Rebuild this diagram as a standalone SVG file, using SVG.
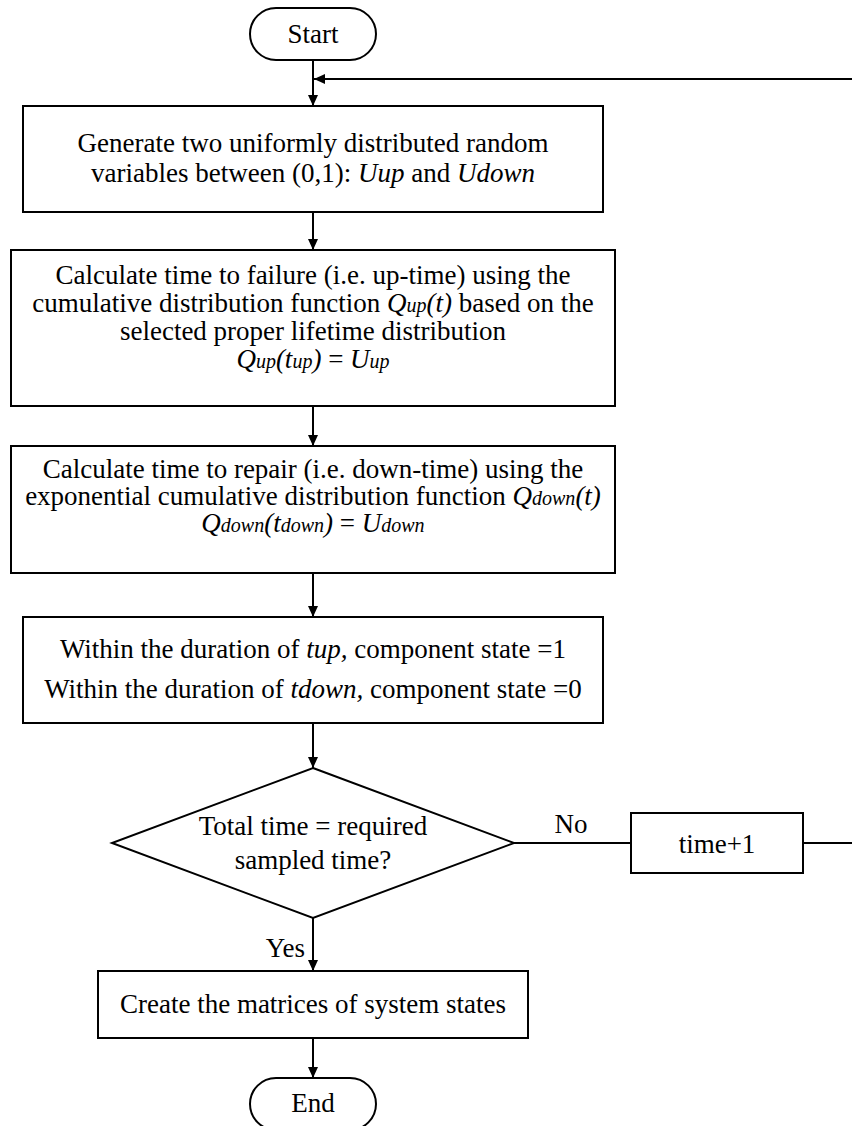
<svg xmlns="http://www.w3.org/2000/svg" width="852" height="1126" viewBox="0 0 852 1126">
  <style>
    .shape { fill: #ffffff; stroke: #000000; stroke-width: 2; }
    .wire { fill: none; stroke: #000000; stroke-width: 2; }
    text { font-family: "Liberation Serif", "Times New Roman", serif; font-size: 27px; fill: #000000; text-anchor: middle; }
    text.end { text-anchor: end; }
    .it { font-style: italic; }
    .sub { font-style: italic; font-size: 20px; }
  </style>
  <defs>
    <marker id="arrow" viewBox="0 0 11 10" refX="11" refY="5" markerWidth="11" markerHeight="10" markerUnits="userSpaceOnUse" orient="auto">
      <path d="M0,0 L11,5 L0,10 Z" fill="#000000"/>
    </marker>
  </defs>

  <!-- connectors and branch labels -->
  <g id="connectors">
    <line class="wire" x1="313" y1="60" x2="313" y2="106" marker-end="url(#arrow)"/>
    <path class="wire" d="M803,843 H855 V79 H314" marker-end="url(#arrow)"/>
    <line class="wire" x1="313" y1="212" x2="313" y2="250" marker-end="url(#arrow)"/>
    <line class="wire" x1="313" y1="406" x2="313" y2="446" marker-end="url(#arrow)"/>
    <line class="wire" x1="313" y1="573" x2="313" y2="617" marker-end="url(#arrow)"/>
    <line class="wire" x1="313" y1="723" x2="313" y2="768" marker-end="url(#arrow)"/>
    <line class="wire" x1="514" y1="843" x2="631" y2="843"/>
    <line class="wire" x1="313" y1="918" x2="313" y2="971" marker-end="url(#arrow)"/>
    <line class="wire" x1="313" y1="1038" x2="313" y2="1078" marker-end="url(#arrow)"/>
    <text x="571" y="833">No</text>
    <text x="305" y="957" class="end">Yes</text>
  </g>

  <g id="start">
    <rect class="shape" x="250" y="8" width="126" height="52" rx="26"/>
    <text x="313" y="43">Start</text>
  </g>

  <g id="generate">
    <rect class="shape" x="23" y="106" width="580" height="106"/>
    <text x="313" y="152">Generate two uniformly distributed random</text>
    <text x="313" y="182">variables between (0,1): <tspan class="it">Uup</tspan> and <tspan class="it">Udown</tspan></text>
  </g>

  <g id="uptime">
    <rect class="shape" x="11" y="250" width="604" height="156"/>
    <text x="313" y="284">Calculate time to failure (i.e. up-time) using the</text>
    <text x="313" y="312">cumulative distribution function <tspan class="it">Q</tspan><tspan class="sub">up</tspan><tspan class="it">(t)</tspan> based on the</text>
    <text x="313" y="340">selected proper lifetime distribution</text>
    <text x="313" y="368"><tspan class="it">Q</tspan><tspan class="sub">up</tspan><tspan class="it">(t</tspan><tspan class="sub">up</tspan><tspan class="it">)</tspan> = <tspan class="it">U</tspan><tspan class="sub">up</tspan></text>
  </g>

  <g id="downtime">
    <rect class="shape" x="11" y="446" width="604" height="127"/>
    <text x="313" y="478">Calculate time to repair (i.e. down-time) using the</text>
    <text x="313" y="505">exponential cumulative distribution function <tspan class="it">Q</tspan><tspan class="sub">down</tspan><tspan class="it">(t)</tspan></text>
    <text x="313" y="532"><tspan class="it">Q</tspan><tspan class="sub">down</tspan><tspan class="it">(t</tspan><tspan class="sub">down</tspan><tspan class="it">)</tspan> = <tspan class="it">U</tspan><tspan class="sub">down</tspan></text>
  </g>

  <g id="states">
    <rect class="shape" x="23" y="617" width="580" height="106"/>
    <text x="313" y="658">Within the duration of <tspan class="it">tup,</tspan> component state =1</text>
    <text x="313" y="698">Within the duration of <tspan class="it">tdown,</tspan> component state =0</text>
  </g>

  <g id="decision">
    <polygon class="shape" points="313,768 514,843 313,918 112,843"/>
    <text x="313" y="835">Total time = required</text>
    <text x="313" y="869">sampled time?</text>
  </g>

  <g id="increment">
    <rect class="shape" x="631" y="813" width="172" height="60"/>
    <text x="717" y="853">time+1</text>
  </g>

  <g id="matrices">
    <rect class="shape" x="98" y="971" width="430" height="67"/>
    <text x="313" y="1013">Create the matrices of system states</text>
  </g>

  <g id="end">
    <rect class="shape" x="250" y="1078" width="126" height="52" rx="26"/>
    <text x="313" y="1112">End</text>
  </g>
</svg>
